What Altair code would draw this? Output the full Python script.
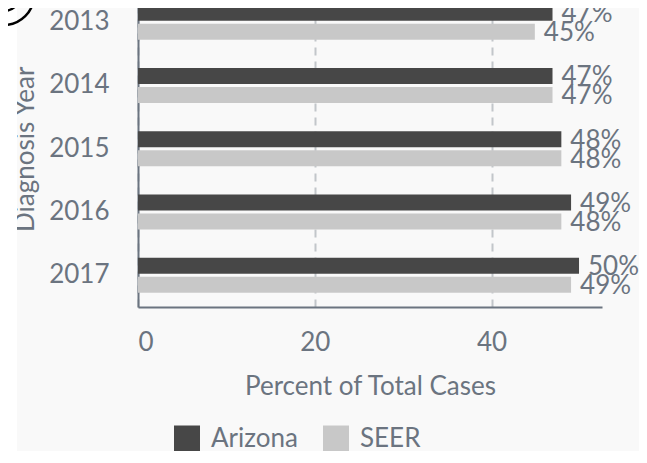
import altair as alt
import pandas as pd

# ---- data ----
years = ["2013", "2014", "2015", "2016", "2017"]
arizona = [46.9, 46.9, 47.9, 49.0, 49.9]
seer = [44.9, 46.9, 47.9, 47.9, 49.0]
series = ["Arizona", "SEER"]
colors = ["#474747", "#c8c8c8"]
x_ticks = [0, 20, 40]

rows = []
for yr, a, s in zip(years, arizona, seer):
    rows.append({"year": yr, "series": "Arizona", "value": a})
    rows.append({"year": yr, "series": "SEER", "value": s})
df = pd.DataFrame(rows)
one = pd.DataFrame({"k": [0]})

TEXT = "#6b7480"
FS = 26
W, H = 464, 316.5

y_enc = alt.Y(
    "year:N", sort=years,
    scale=alt.Scale(paddingInner=0.447, paddingOuter=0.2235),
    axis=alt.Axis(title="Diagnosis Year", labelPadding=29, tickSize=0, ticks=False,
                  domainColor=TEXT, domainWidth=2, grid=False,
                  titleX=-105, titleY=H / 2, titleBaseline="alphabetic", titleAlign="center"),
)
yoff = alt.YOffset("series:N", sort=series, scale=alt.Scale(domain=series, paddingInner=0.16))
x_enc = alt.X(
    "value:Q",
    scale=alt.Scale(domain=[0, 52.5], nice=False),
    axis=alt.Axis(values=x_ticks, title="Percent of Total Cases", labelPadding=22,
                  tickSize=0, ticks=False, grid=True, gridDash=[8, 6], gridColor="#c2c6ca",
                  gridWidth=2, domainColor=TEXT, domainWidth=2, titlePadding=18),
)

strip = alt.Chart(one).mark_rect(color="white").encode(
    x=alt.value(-200), x2=alt.value(17 - 138), y=alt.value(-60), y2=alt.value(520)
)
ring_outer = alt.Chart(one).mark_point(shape="circle", filled=False, stroke="black",
                                        strokeWidth=2.5, opacity=1).encode(
    x=alt.value(-134), y=alt.value(4.5), size=alt.value(3600)
)
ring_inner = alt.Chart(one).mark_point(shape="circle", filled=False, stroke="black",
                                        strokeWidth=2.5, opacity=1).encode(
    x=alt.value(-134), y=alt.value(4.5), size=alt.value(1024)
)

bars = alt.Chart(df).mark_bar().encode(
    x=x_enc, y=y_enc, yOffset=yoff,
    color=alt.Color("series:N", sort=series,
                    scale=alt.Scale(domain=series, range=colors),
                    legend=alt.Legend(title=None, orient="none", direction="horizontal",
                                      legendX=36, legendY=435, symbolType="square",
                                      symbolSize=676, symbolStrokeWidth=0, labelOffset=11,
                                      columnPadding=25, labelFontSize=FS, labelColor=TEXT,
                                      labelFont="Lato", padding=0)),
)

labels = alt.Chart(df).transform_calculate(
    label="format(datum.value, '.0f') + '%'"
).mark_text(align="left", baseline="middle", dx=9, dy=1.5, fontSize=FS, color=TEXT,
            font="Lato").encode(
    x="value:Q", y=alt.Y("year:N", sort=years), yOffset=alt.YOffset("series:N", sort=series),
    text="label:N",
)

chart = alt.layer(strip, ring_outer, ring_inner, bars, labels).properties(
    width=W, height=H,
    autosize=alt.AutoSizeParams(type="none"),
    padding={"left": 130, "top": -17.5, "right": 37, "bottom": 144},
    background="#f9f9f9",
).configure(font="Lato").configure_axis(
    labelFontSize=FS, titleFontSize=FS, labelColor=TEXT, titleColor=TEXT,
    titleFontWeight="normal", labelFont="Lato", titleFont="Lato",
).configure_view(stroke=None)

chart.save("out.html", embed_options={"renderer": "svg", "actions": False})
